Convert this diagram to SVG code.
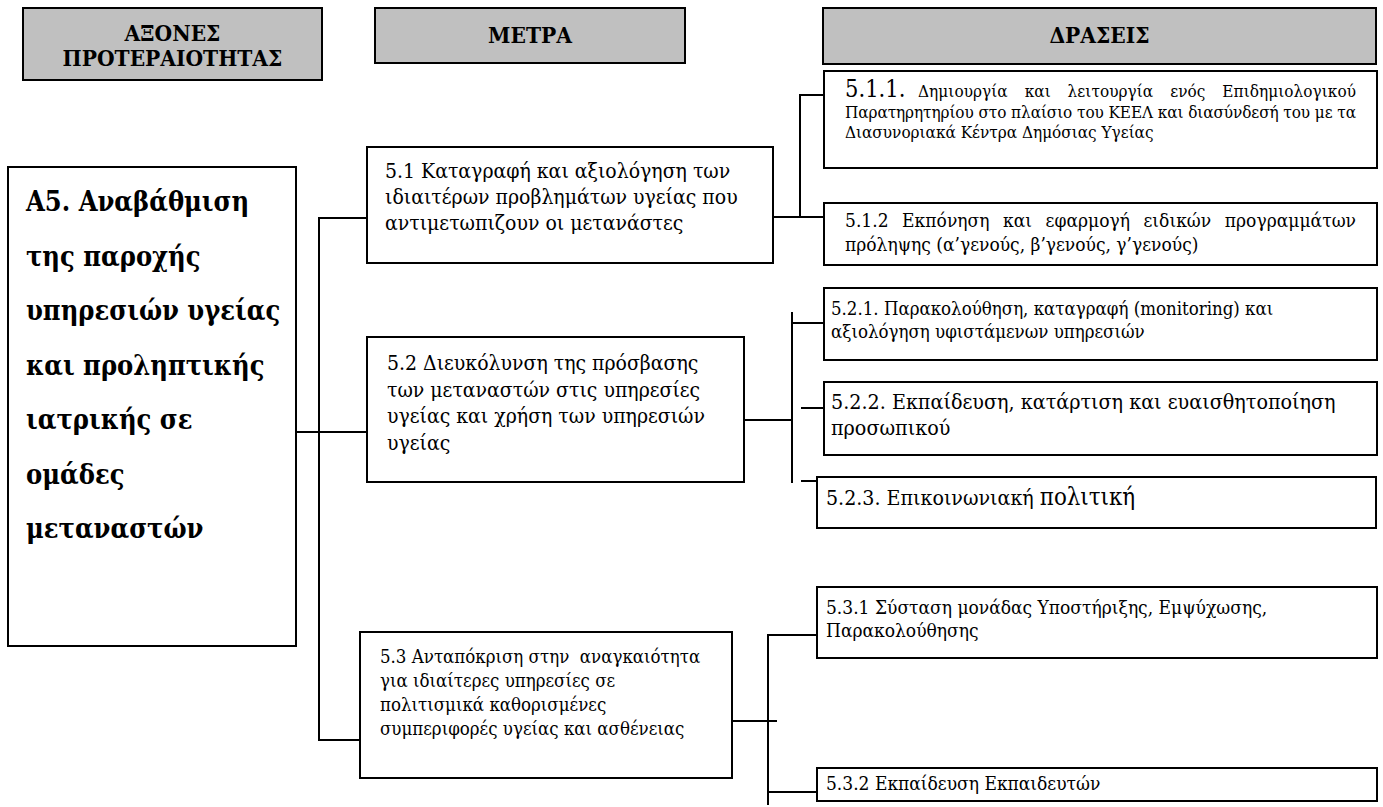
<svg xmlns="http://www.w3.org/2000/svg" width="1383" height="807" viewBox="0 0 1383 807">
<style>
.box{fill:#fff;stroke:#000;stroke-width:2}
.hdr{fill:#c0c0c0;stroke:#000;stroke-width:2}
text{font-family:"DejaVu Serif Condensed","DejaVu Serif",serif;font-stretch:condensed;fill:#000}
.h{font-size:22.5px;font-weight:bold;text-anchor:middle}
.main{font-size:27px;font-weight:bold}
.m{font-size:21px}
.m3{font-size:18.5px}
.s{font-size:17px}
.conn line{stroke:#000;stroke-width:2}
</style>
<rect width="1383" height="807" fill="#fff"/>

<g id="hdr-axones">
<rect class="hdr" x="23" y="8" width="299" height="72"/>
<text class="h" x="172.5" y="41">ΑΞΟΝΕΣ</text>
<text class="h" x="172.5" y="66">ΠΡΟΤΕΡΑΙΟΤΗΤΑΣ</text>
</g>
<g id="hdr-metra">
<rect class="hdr" x="375" y="8" width="310" height="55"/>
<text class="h" x="530" y="43">ΜΕΤΡΑ</text>
</g>
<g id="hdr-draseis">
<rect class="hdr" x="823" y="8" width="553" height="56"/>
<text class="h" x="1099.5" y="43">ΔΡΑΣΕΙΣ</text>
</g>

<g class="conn" id="connectors">
<line x1="319" y1="217" x2="319" y2="741"/>
<line x1="318" y1="218" x2="367" y2="218"/>
<line x1="296" y1="432" x2="367" y2="432"/>
<line x1="318" y1="740" x2="368" y2="740"/>
<line x1="773" y1="217" x2="824" y2="217"/>
<line x1="800" y1="94" x2="800" y2="218"/>
<line x1="799" y1="95" x2="824" y2="95"/>
<line x1="744" y1="420" x2="792" y2="420"/>
<line x1="792" y1="312" x2="792" y2="483"/>
<line x1="791" y1="323" x2="824" y2="323"/>
<line x1="801" y1="408" x2="824" y2="408"/>
<line x1="801" y1="481" x2="824" y2="481"/>
<line x1="728" y1="721" x2="777" y2="721"/>
<line x1="768" y1="634" x2="768" y2="805"/>
<line x1="767" y1="635" x2="817" y2="635"/>
<line x1="767" y1="792" x2="817" y2="792"/>
</g>

<g id="a5">
<rect class="box" x="8" y="167" width="288" height="479"/>
<text class="main" x="26" y="211">Α5. Αναβάθμιση</text>
<text class="main" x="26" y="265.5">της παροχής</text>
<text class="main" x="26" y="320">υπηρεσιών υγείας</text>
<text class="main" x="26" y="374.5">και προληπτικής</text>
<text class="main" x="26" y="429">ιατρικής σε</text>
<text class="main" x="26" y="483.5">ομάδες</text>
<text class="main" x="26" y="538">μεταναστών</text>
</g>

<g id="m51">
<rect class="box" x="367" y="147" width="406" height="116"/>
<text class="m" x="385" y="178">5.1 Καταγραφή και αξιολόγηση των</text>
<text class="m" x="385" y="204">ιδιαιτέρων προβλημάτων υγείας που</text>
<text class="m" x="385" y="230">αντιμετωπιζουν οι μετανάστες</text>
</g>

<g id="m52">
<rect class="box" x="367" y="337" width="377" height="145"/>
<text class="m" x="387" y="370">5.2 Διευκόλυνση της πρόσβασης</text>
<text class="m" x="387" y="396.5">των μεταναστών στις υπηρεσίες</text>
<text class="m" x="387" y="423">υγείας και χρήση των υπηρεσιών</text>
<text class="m" x="387" y="449.5">υγείας</text>
</g>

<g id="m53">
<rect class="box" x="360" y="632" width="372" height="146"/>
<text class="m3" x="380" y="663">5.3 Ανταπόκριση στην&#160; αναγκαιότητα</text>
<text class="m3" x="380" y="687">για ιδιαίτερες υπηρεσίες σε</text>
<text class="m3" x="380" y="711">πολιτισμικά καθορισμένες</text>
<text class="m3" x="380" y="735">συμπεριφορές υγείας και ασθένειας</text>
</g>

<g id="a511">
<rect class="box" x="824" y="71" width="553" height="97"/>
<text x="845" y="97" style="font-size:23.5px">5.1.1.</text>
<text class="s" x="918" y="97" textLength="438" lengthAdjust="spacing" style="word-spacing:12px">Δημιουργία και λειτουργία ενός Επιδημιολογικού</text>
<text class="s" x="845" y="117.5" textLength="511" lengthAdjust="spacing">Παρατηρητηρίου στο πλαίσιο του ΚΕΕΛ και διασύνδεσή του με τα</text>
<text class="s" x="845" y="138">Διασυνοριακά Κέντρα Δημόσιας Υγείας</text>
</g>

<g id="a512">
<rect class="box" x="824" y="203" width="553" height="62"/>
<text x="845" y="227" textLength="511" lengthAdjust="spacing" style="font-size:19px;word-spacing:8px">5.1.2 Εκπόνηση και εφαρμογή ειδικών προγραμμάτων</text>
<text x="845" y="251" style="font-size:19px">πρόληψης (α’γενούς, β’γενούς, γ’γενούς)</text>
</g>

<g id="a521">
<rect class="box" x="824" y="288" width="553" height="72"/>
<text x="831" y="315" style="font-size:18.5px">5.2.1. Παρακολούθηση, καταγραφή (monitoring) και</text>
<text x="831" y="338" style="font-size:18.5px">αξιολόγηση υφιστάμενων υπηρεσιών</text>
</g>

<g id="a522">
<rect class="box" x="824" y="382" width="553" height="73"/>
<text x="831" y="409" style="font-size:21.3px">5.2.2. Εκπαίδευση, κατάρτιση και ευαισθητοποίηση</text>
<text x="831" y="435" style="font-size:21.3px">προσωπικού</text>
</g>

<g id="a523">
<rect class="box" x="817" y="477" width="559" height="51"/>
<text x="826" y="505" style="font-size:21.2px">5.2.3. Επικοινωνιακή <tspan style="font-size:23.8px">πολιτική</tspan></text>
</g>

<g id="a531">
<rect class="box" x="817" y="587" width="560" height="71"/>
<text x="826" y="614" style="font-size:19px">5.3.1 Σύσταση μονάδας Υποστήριξης, Εμψύχωσης,</text>
<text x="826" y="637" style="font-size:19px">Παρακολούθησης</text>
</g>

<g id="a532">
<rect class="box" x="817" y="768" width="560" height="33"/>
<text x="826" y="790" style="font-size:19px">5.3.2 Εκπαίδευση Εκπαιδευτών</text>
</g>
</svg>
